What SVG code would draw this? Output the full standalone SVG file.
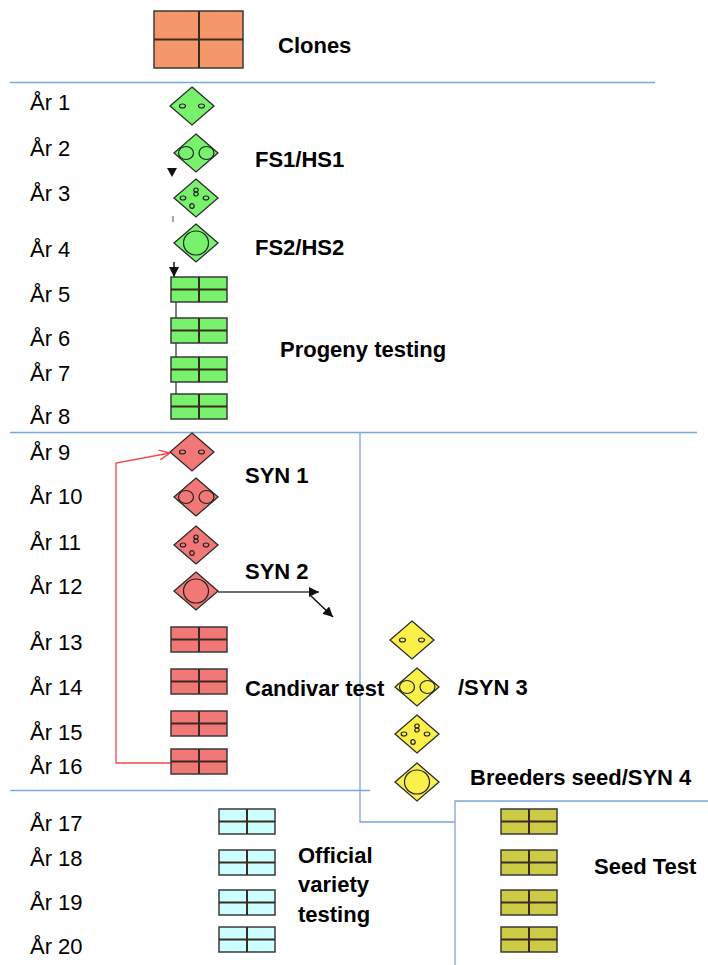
<svg xmlns="http://www.w3.org/2000/svg" xmlns:xlink="http://www.w3.org/1999/xlink" width="708" height="965" viewBox="0 0 708 965">
<style>
.bg{fill:#fff}
.yr{font-family:"Liberation Sans",Arial,sans-serif;font-size:22px;fill:#000}
.lb{font-family:"Liberation Sans",Arial,sans-serif;font-size:22px;font-weight:bold;fill:#000}
.sep{stroke:#7AA7DE;stroke-width:1.3;fill:none}
.dia{stroke:#2b2b2b;stroke-width:1.3}
.inner{fill:none;stroke:#222;stroke-width:1.2}
.bx{stroke:#3a3a3a;stroke-width:1.5}
.bxl{stroke:#3a2a20;stroke-width:2;fill:none}
.gr{fill:#78F26D}
.rd{fill:#F27878}
.ye{fill:#FBEF4A}
.cy{fill:#CCFFFF}
.ol{fill:#CDCB45}
.or{fill:#F4976B}
</style>
<defs>
<path id="dia" d="M0,-19 L22,0 L0,19 L-22,0Z"/>
<g id="t1" class="inner"><ellipse cx="-9.5" cy="0" rx="3" ry="2"/><ellipse cx="9.5" cy="0" rx="3" ry="2"/></g>
<g id="t2" class="inner"><ellipse cx="-10" cy="0" rx="7.5" ry="6.5"/><ellipse cx="10.5" cy="0" rx="7.5" ry="6.5"/></g>
<g id="t3" class="inner"><ellipse cx="-13" cy="0" rx="2.8" ry="2"/><ellipse cx="10" cy="0" rx="2.8" ry="2"/><ellipse cx="0" cy="-8" rx="2.2" ry="2"/><ellipse cx="0" cy="-4" rx="2.2" ry="2"/><ellipse cx="-4" cy="8" rx="2.2" ry="2.4"/></g>
<g id="t4" class="inner"><ellipse cx="0" cy="0" rx="12.5" ry="12"/></g>
<g id="box"><rect class="bx" x="0" y="0" width="56" height="25"/><path class="bxl" d="M28,0V25M0,12.5H56"/></g>
<marker id="fillArr" viewBox="0 0 10 10" refX="10" refY="5" markerWidth="10" markerHeight="10" markerUnits="userSpaceOnUse" orient="auto"><path d="M0,0 L10,5 L0,10Z" fill="#111"/></marker>
<marker id="openArr" viewBox="0 0 10 10" refX="10" refY="5" markerWidth="11" markerHeight="11" markerUnits="userSpaceOnUse" orient="auto"><path d="M0,0.5 L10,5 L0,9.5" fill="none" stroke="#F04848" stroke-width="1.3"/></marker>
</defs>
<rect class="bg" x="0" y="0" width="708" height="965"/>

<g id="separators">
<path class="sep" d="M10,82.5H655"/>
<path class="sep" d="M10,432.5H697"/>
<path class="sep" d="M360,432.5V822H455"/>
<path class="sep" d="M10,790.5H370"/>
<path class="sep" d="M455,965V801H708"/>
</g>

<g id="year-labels">
<text class="yr" x="30" y="110">År 1</text>
<text class="yr" x="30" y="156">År 2</text>
<text class="yr" x="30" y="201">År 3</text>
<text class="yr" x="30" y="257">År 4</text>
<text class="yr" x="30" y="302">År 5</text>
<text class="yr" x="30" y="346">År 6</text>
<text class="yr" x="30" y="381">År 7</text>
<text class="yr" x="30" y="424">År 8</text>
<text class="yr" x="30" y="460">År 9</text>
<text class="yr" x="30" y="504">År 10</text>
<text class="yr" x="30" y="550">År 11</text>
<text class="yr" x="30" y="594">År 12</text>
<text class="yr" x="30" y="650">År 13</text>
<text class="yr" x="30" y="695">År 14</text>
<text class="yr" x="30" y="740">År 15</text>
<text class="yr" x="30" y="774">År 16</text>
<text class="yr" x="30" y="831">År 17</text>
<text class="yr" x="30" y="866">År 18</text>
<text class="yr" x="30" y="910">År 19</text>
<text class="yr" x="30" y="954">År 20</text>
</g>

<g id="connectors">
<path d="M176,301V394" stroke="#808080" stroke-width="2" fill="none"/>
<polygon points="167,168 177,168 172,177" fill="#111"/>
<path d="M173,216V222" stroke="#888" stroke-width="1.5"/>
<path d="M174,262V277" stroke="#111" stroke-width="1.5" marker-end="url(#fillArr)"/>
<path d="M171,763H116V463L170,453" stroke="#F04848" stroke-width="1.3" fill="none" marker-end="url(#openArr)"/>
<path d="M218,592H319" stroke="#404040" stroke-width="1.5" fill="none" marker-end="url(#fillArr)"/>
<path d="M311,596L333,617" stroke="#111" stroke-width="1.5" fill="none" marker-end="url(#fillArr)"/>
</g>

<g id="clones">
<rect class="bx or" x="154" y="11" width="89" height="57"/>
<path class="bxl" d="M199,11V68M154,39.5H243"/>
<text class="lb" x="278" y="53">Clones</text>
</g>

<g id="green-nodes">
<g id="g1" transform="translate(192,106)"><use href="#dia" class="dia gr"/><use href="#t1"/></g>
<g id="g2" transform="translate(196,153)"><use href="#dia" class="dia gr"/><use href="#t2"/></g>
<g id="g3" transform="translate(196,198)"><use href="#dia" class="dia gr"/><use href="#t3"/></g>
<g id="g4" transform="translate(196,243)"><use href="#dia" class="dia gr"/><use href="#t4"/></g>
<g id="g5" class="gr" transform="translate(171,277)"><use href="#box"/></g>
<g id="g6" class="gr" transform="translate(171,318)"><use href="#box"/></g>
<g id="g7" class="gr" transform="translate(171,357)"><use href="#box"/></g>
<g id="g8" class="gr" transform="translate(171,394)"><use href="#box"/></g>
<text class="lb" x="255" y="167">FS1/HS1</text>
<text class="lb" x="255" y="255">FS2/HS2</text>
<text class="lb" x="280" y="357">Progeny testing</text>
</g>

<g id="red-nodes">
<g id="r9" transform="translate(192,452)"><use href="#dia" class="dia rd"/><use href="#t1"/></g>
<g id="r10" transform="translate(196,497)"><use href="#dia" class="dia rd"/><use href="#t2"/></g>
<g id="r11" transform="translate(196,545)"><use href="#dia" class="dia rd"/><use href="#t3"/></g>
<g id="r12" transform="translate(196,591)"><use href="#dia" class="dia rd"/><use href="#t4"/></g>
<g id="r13" class="rd" transform="translate(171,627)"><use href="#box"/></g>
<g id="r14" class="rd" transform="translate(171,669)"><use href="#box"/></g>
<g id="r15" class="rd" transform="translate(171,711)"><use href="#box"/></g>
<g id="r16" class="rd" transform="translate(171,749)"><use href="#box"/></g>
<text class="lb" x="245" y="483">SYN 1</text>
<text class="lb" x="245" y="579">SYN 2</text>
<text class="lb" x="245" y="696">Candivar test</text>
</g>

<g id="yellow-nodes">
<g id="y1" transform="translate(412,640)"><use href="#dia" class="dia ye"/><use href="#t1"/></g>
<g id="y2" transform="translate(417,687)"><use href="#dia" class="dia ye"/><use href="#t2"/></g>
<g id="y3" transform="translate(417,734)"><use href="#dia" class="dia ye"/><use href="#t3"/></g>
<g id="y4" transform="translate(417,782)"><use href="#dia" class="dia ye"/><use href="#t4"/></g>
<text class="lb" x="458" y="695">/SYN 3</text>
<text class="lb" x="470" y="785">Breeders seed/SYN 4</text>
</g>

<g id="cyan-nodes">
<g id="c17" class="cy" transform="translate(219,809)"><use href="#box"/></g>
<g id="c18" class="cy" transform="translate(219,850)"><use href="#box"/></g>
<g id="c19" class="cy" transform="translate(219,890)"><use href="#box"/></g>
<g id="c20" class="cy" transform="translate(219,927)"><use href="#box"/></g>
<text class="lb" x="298" y="863">Official</text>
<text class="lb" x="298" y="892">variety</text>
<text class="lb" x="298" y="922">testing</text>
</g>

<g id="olive-nodes">
<g id="o17" class="ol" transform="translate(501,809)"><use href="#box"/></g>
<g id="o18" class="ol" transform="translate(501,850)"><use href="#box"/></g>
<g id="o19" class="ol" transform="translate(501,890)"><use href="#box"/></g>
<g id="o20" class="ol" transform="translate(501,927)"><use href="#box"/></g>
<text class="lb" x="594" y="874">Seed Test</text>
</g>
</svg>
